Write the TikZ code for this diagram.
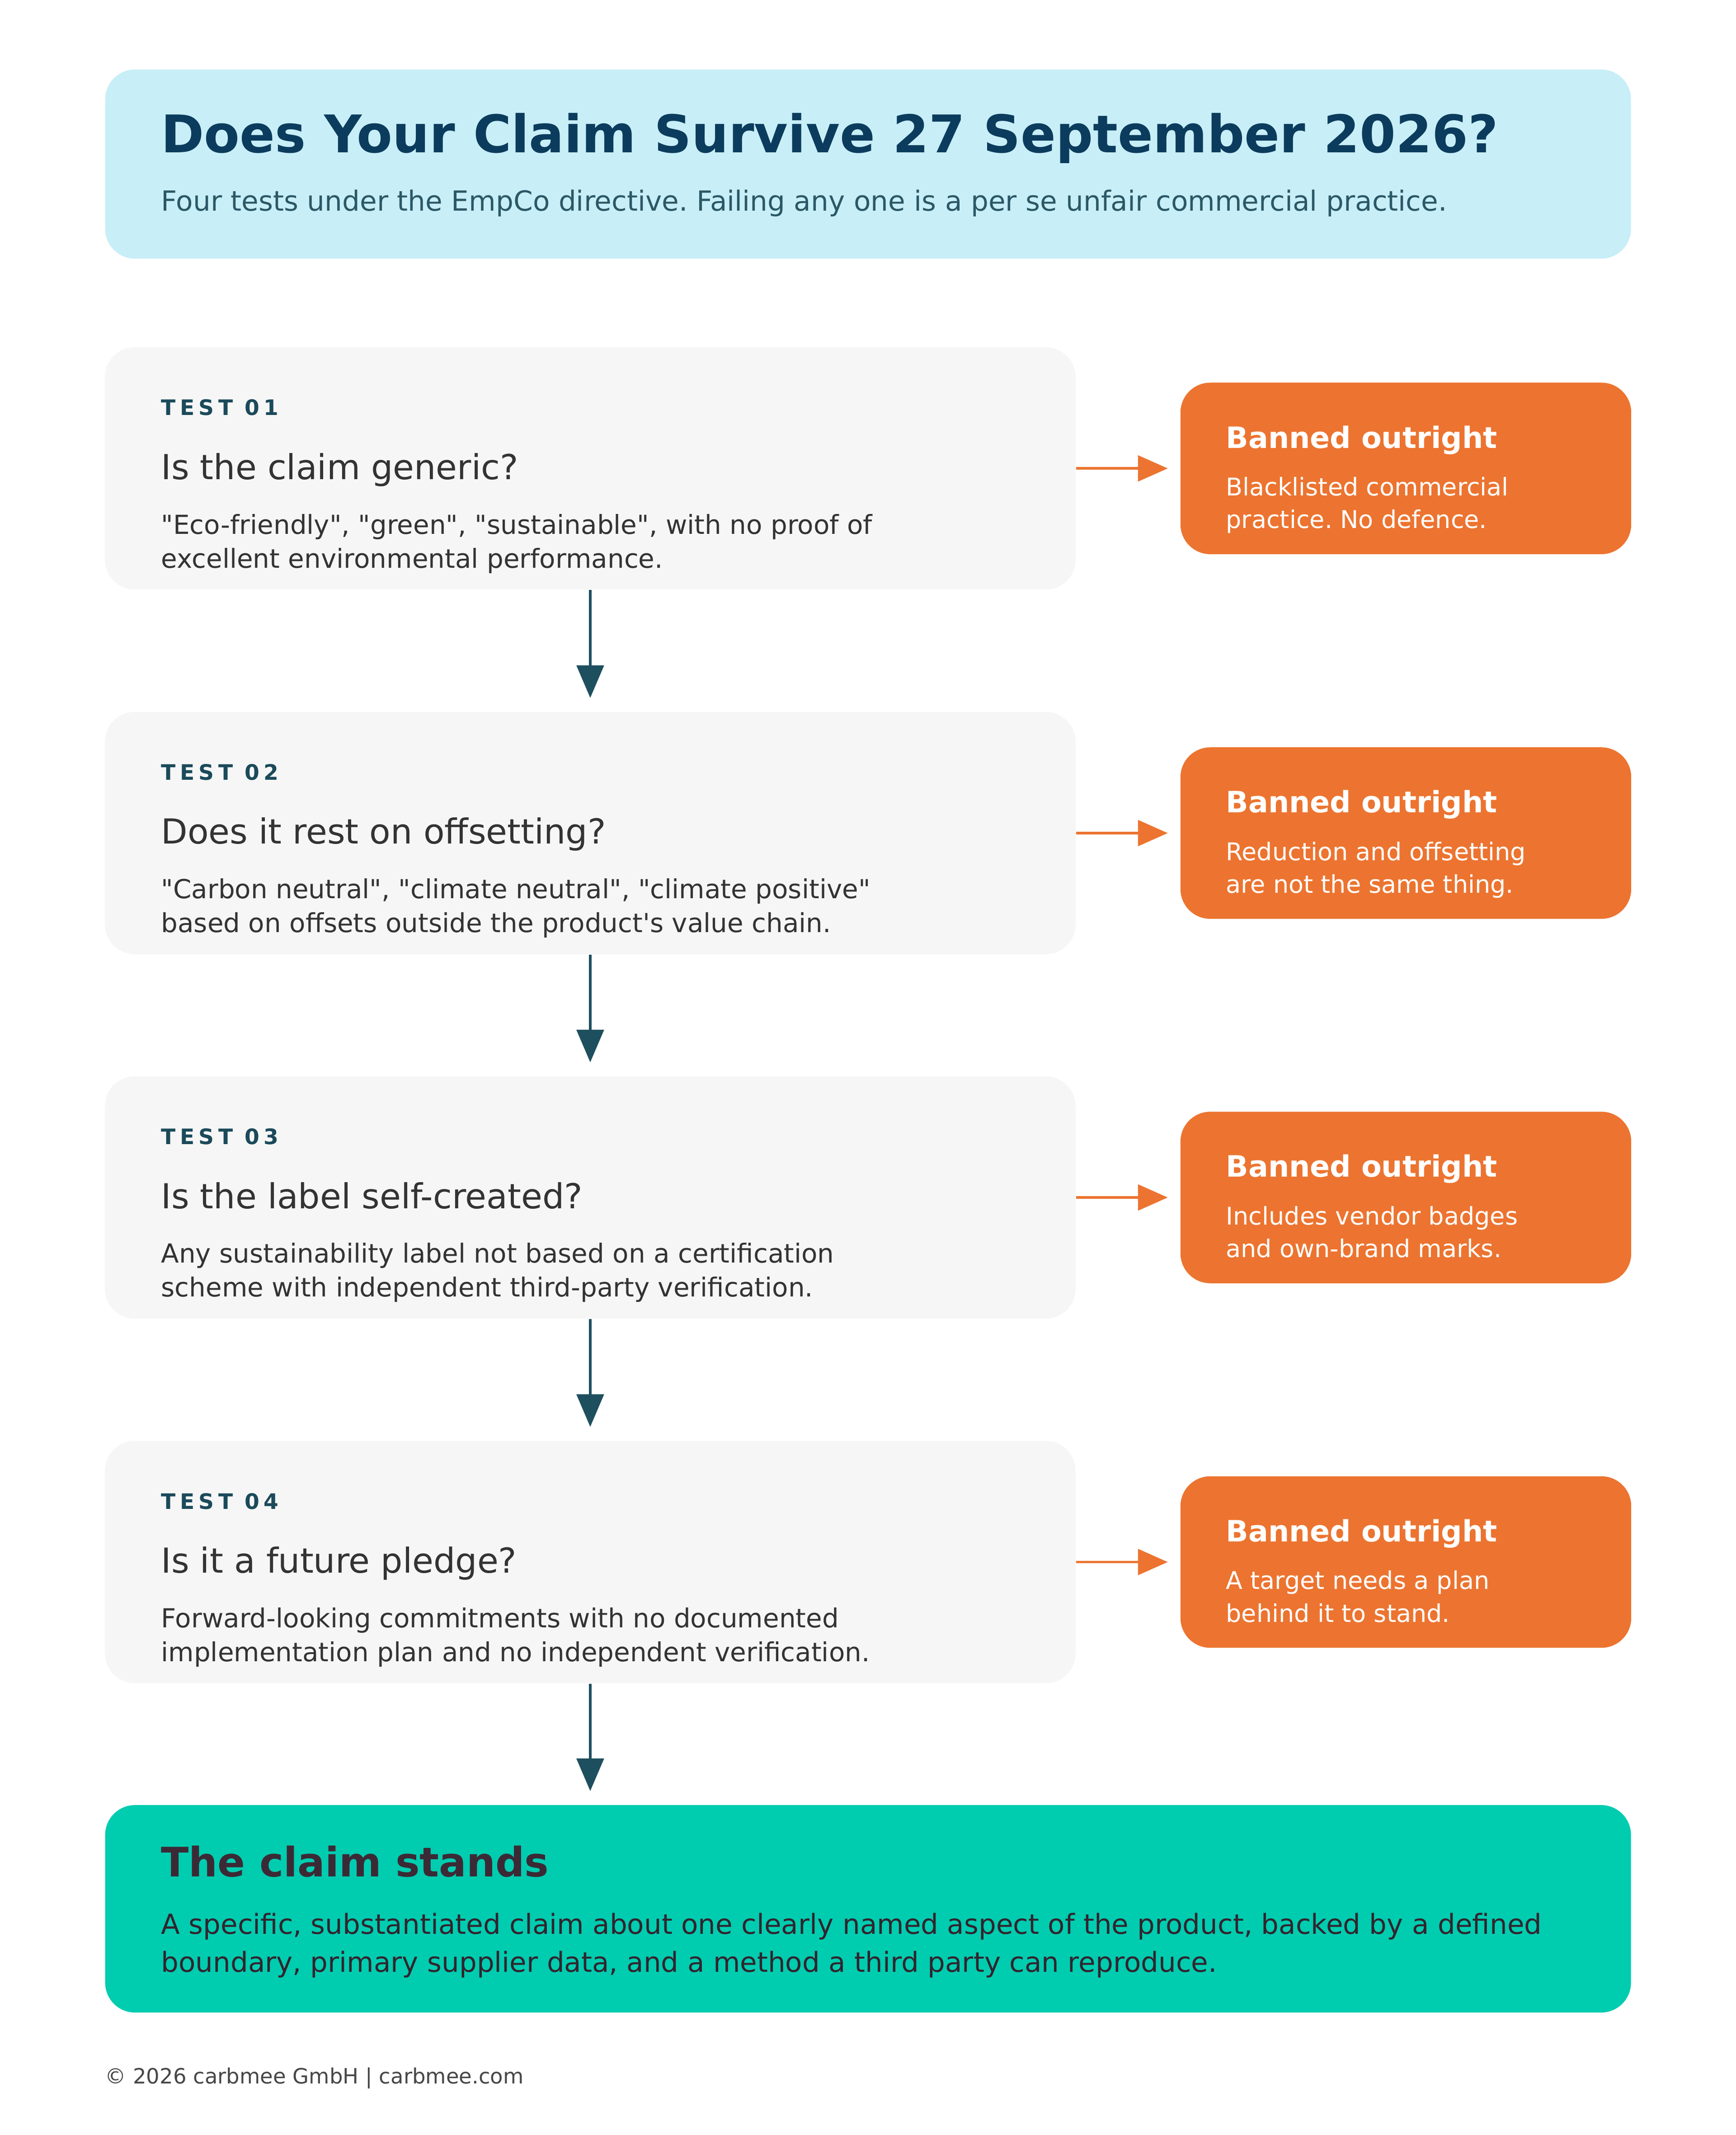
\documentclass[tikz,border=0pt]{standalone}
\usepackage{fontspec}
\setmainfont[Ligatures=TeXOff]{DejaVu Sans}
\newfontfamily\spacedfont[LetterSpace=20,Ligatures=TeXOff]{DejaVu Sans}
\usepackage{tikz}
\usetikzlibrary{arrows.meta}
\definecolor{headbg}{HTML}{C8EEF7}
\definecolor{headtxt}{HTML}{0B3C5D}
\definecolor{subtxt}{HTML}{2B5866}
\definecolor{testbg}{HTML}{F6F6F6}
\definecolor{labeltxt}{HTML}{1B4A5A}
\definecolor{bodytxt}{HTML}{333333}
\definecolor{flowcol}{HTML}{1E4F5E}
\definecolor{bancol}{HTML}{EC7430}
\definecolor{standcol}{HTML}{00CCB0}
\definecolor{standtxt}{HTML}{3B2A35}
\frenchspacing

\begin{document}
\begin{tikzpicture}[x=0.02cm, y=-0.02cm,
    panel/.style={rounded corners=0.44cm, inner sep=0pt},
    testbox/.style={panel, fill=testbg, minimum width=14.32cm, minimum height=3.574cm},
    banbox/.style={panel, fill=bancol, minimum width=6.65cm, minimum height=2.53cm},
    txt/.style={anchor=base west, inner sep=0pt, align=left},
    testlabel/.style={txt, text=labeltxt, font=\spacedfont\bfseries\fontsize{8.95}{10}\selectfont},
    question/.style={txt, text=bodytxt, font=\fontsize{14.45}{17}\selectfont},
    desc/.style={txt, text=bodytxt, font=\fontsize{11}{14.26}\selectfont},
    bantitle/.style={txt, text=white, font=\bfseries\fontsize{12.35}{15}\selectfont},
    bandesc/.style={txt, text=white, font=\fontsize{10.25}{13.75}\selectfont},
    flow/.style={draw=flowcol, line width=1.1pt, -{Triangle[length=0.48cm, width=0.4cm]}, shorten >=0.2cm},
    ban/.style={draw=bancol, line width=1.1pt, -{Triangle[length=0.44cm, width=0.38cm]}, shorten >=0.18cm}]
    \useasboundingbox (0,0) rectangle (1280,1574.3);
    % header
    \node[panel, fill=headbg, minimum width=22.51cm, minimum height=2.79cm] (header) at (640.2,121) {};
    \node[txt, text=headtxt, font=\bfseries\fontsize{21.8}{26}\selectfont] (title) at (118.5,112.5) {Does Your Claim Survive 27 September 2026?};
    \node[txt, text=subtxt, font=\fontsize{11.63}{14}\selectfont] (subtitle) at (118.5,155.6) {Four tests under the EmpCo directive. Failing any one is a per se unfair commercial practice.};
    % test 01 (multi-line texts sit on their last baseline)
    \node[testbox] (test1) at (435.3,345.4) {};
    \node[testlabel] (lab1) at (118.5,306.3) {TEST 01};
    \node[question] (q1) at (118.5,353.5) {Is the claim generic?};
    \node[desc] (d1) at (118.5,418.8) {"Eco-friendly", "green", "sustainable", with no proof of\\excellent environmental performance.};
    \node[banbox] (ban1) at (1036.8,345.4) {};
    \node[bantitle] (bt1) at (903.8,330.4) {Banned outright};
    \node[bandesc] (bd1) at (903.8,389.6) {Blacklisted commercial\\practice. No defence.};
    % test 02
    \node[testbox] (test2) at (435.3,614.3) {};
    \node[testlabel] (lab2) at (118.5,575.1) {TEST 02};
    \node[question] (q2) at (118.5,622.3) {Does it rest on offsetting?};
    \node[desc] (d2) at (118.5,687.6) {"Carbon neutral", "climate neutral", "climate positive"\\based on offsets outside the product's value chain.};
    \node[banbox] (ban2) at (1036.8,614.3) {};
    \node[bantitle] (bt2) at (903.8,599.2) {Banned outright};
    \node[bandesc] (bd2) at (903.8,658.5) {Reduction and offsetting\\are not the same thing.};
    % test 03
    \node[testbox] (test3) at (435.3,883) {};
    \node[testlabel] (lab3) at (118.5,843.8) {TEST 03};
    \node[question] (q3) at (118.5,891) {Is the label self-created?};
    \node[desc] (d3) at (118.5,956.3) {Any sustainability label not based on a certification\\scheme with independent third-party verification.};
    \node[banbox] (ban3) at (1036.8,883) {};
    \node[bantitle] (bt3) at (903.8,867.9) {Banned outright};
    \node[bandesc] (bd3) at (903.8,927.2) {Includes vendor badges\\and own-brand marks.};
    % test 04
    \node[testbox] (test4) at (435.3,1151.8) {};
    \node[testlabel] (lab4) at (118.5,1112.7) {TEST 04};
    \node[question] (q4) at (118.5,1159.9) {Is it a future pledge?};
    \node[desc] (d4) at (118.5,1225.1) {Forward-looking commitments with no documented\\implementation plan and no independent verification.};
    \node[banbox] (ban4) at (1036.8,1151.8) {};
    \node[bantitle] (bt4) at (903.8,1136.8) {Banned outright};
    \node[bandesc] (bd4) at (903.8,1196) {A target needs a plan\\behind it to stand.};
    % result
    \node[panel, fill=standcol, minimum width=22.51cm, minimum height=3.06cm] (stand) at (640.2,1407.5) {};
    \node[txt, text=standtxt, font=\bfseries\fontsize{17.07}{20}\selectfont] (st) at (118.5,1383.8) {The claim stands};
    \node[txt, text=standtxt!85!black, font=\fontsize{11.6}{15.97}\selectfont] (sd) at (118.5,1454.1) {A specific, substantiated claim about one clearly named aspect of the product, backed by a defined\\boundary, primary supplier data, and a method a third party can reproduce.};
    \node[txt, text=bodytxt!90, font=\fontsize{8.83}{11}\selectfont] (foot) at (77.3,1536.4) {\textcopyright{} 2026 carbmee GmbH | carbmee.com};
    % arrows
    \draw[flow] (test1.south) -- (test2.north);
    \draw[flow] (test2.south) -- (test3.north);
    \draw[flow] (test3.south) -- (test4.north);
    \draw[flow] (test4.south) -- (stand.north -| test4.south);
    \draw[ban] (test1.east) -- (ban1.west);
    \draw[ban] (test2.east) -- (ban2.west);
    \draw[ban] (test3.east) -- (ban3.west);
    \draw[ban] (test4.east) -- (ban4.west);
\end{tikzpicture}
\end{document}
